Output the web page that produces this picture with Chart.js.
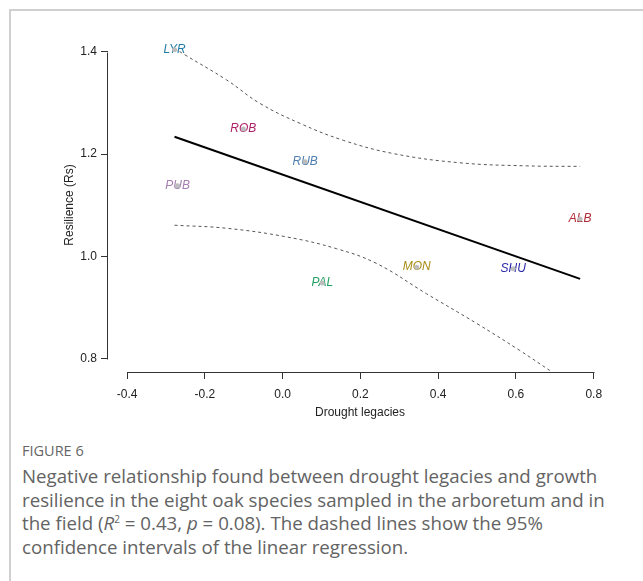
<!DOCTYPE html>
<html lang="en">
<head>
  <meta charset="UTF-8">
  <title>Figure 6 - Drought legacies vs resilience</title>
  <script src="https://cdn.jsdelivr.net/npm/chart.js"></script>
  <style>
    body {
      margin: 0;
      width: 643px;
      height: 581px;
      overflow: hidden;
      background: #fff;
      position: relative;
    }

    /* grey frame around the figure, runs off the right/bottom edge */
    .frame {
      position: absolute;
      left: 9px;
      top: 9px;
      width: 800px;
      height: 800px;
      border: 2px solid #d0d0d0;
    }

    #chart {
      position: absolute;
      left: 0;
      top: 0;
    }

    .caption {
      position: absolute;
      left: 22px;
      top: 441px;
      width: 598px;
      font-family: "Open Sans", "Noto Sans", sans-serif;
      color: #636363;
    }

    .caption .label {
      font-size: 14.5px;
      line-height: 20px;
      color: #666;
    }

    .caption p {
      margin: 3px 0 0 0;
      font-size: 18.7px;
      line-height: 23.7px;
    }
  </style>
</head>
<body>

  <div class="frame"></div>
  <canvas id="chart" width="643" height="440"></canvas>

  <div class="caption">
    <div class="label">FIGURE 6</div>
    <p>Negative relationship found between drought legacies and growth resilience in the eight oak species sampled in the arboretum and in the field (<i>R</i><sup style="font-size:10px;line-height:0">2</sup> = 0.43, <i>p</i> = 0.08). The dashed lines show the 95% confidence intervals of the linear regression.</p>
  </div>

  <script>
    // species points
    const species = ['LYR', 'ROB', 'RUB', 'PUB', 'ALB', 'MON', 'SHU', 'PAL'];
    const legacies = [-0.278, -0.101, 0.058, -0.270, 0.765, 0.345, 0.593, 0.102];
    const resilience = [1.404, 1.249, 1.185, 1.138, 1.073, 0.979, 0.976, 0.948];
    const speciesColors = ['#1f7ca3', '#ad1f68', '#4f7fae', '#a57fb3', '#b02a33', '#a88b14', '#2626aa', '#23a062'];

    // regression line
    const fitX = [-0.278, 0.765];
    const fitY = [1.234, 0.956];

    // 95% confidence bands
    const upperX = [-0.278, -0.251, -0.144, -0.058, 0.045, 0.156, 0.285, 0.456, 0.628, 0.765];
    const upperY = [1.407, 1.394, 1.345, 1.299, 1.260, 1.227, 1.201, 1.183, 1.177, 1.176];
    const lowerX = [-0.278, -0.144, 0.011, 0.139, 0.242, 0.370, 0.499, 0.610, 0.687];
    const lowerY = [1.061, 1.055, 1.038, 1.015, 0.986, 0.927, 0.869, 0.816, 0.777];

    const xTicks = [-0.4, -0.2, 0.0, 0.2, 0.4, 0.6, 0.8];
    const yTicks = [0.8, 1.0, 1.2, 1.4];

    const toXY = (xs, ys) => xs.map((v, i) => ({ x: v, y: ys[i] }));
    const axisFont = { family: '"Liberation Sans", Arial, sans-serif', size: 12 };

    // species names in italics, drawn before the grey dots
    const labelPlugin = {
      id: 'speciesLabels',
      beforeDatasetsDraw(chart) {
        const { ctx, scales: { x, y } } = chart;
        ctx.save();
        ctx.font = 'italic 12px "Liberation Sans", Arial, sans-serif';
        ctx.textAlign = 'center';
        ctx.textBaseline = 'middle';
        species.forEach((s, i) => {
          ctx.fillStyle = speciesColors[i];
          ctx.fillText(s, x.getPixelForValue(legacies[i]), y.getPixelForValue(resilience[i]));
        });
        ctx.restore();
      }
    };

    // R style axis lines: only from first to last tick
    const axisLinePlugin = {
      id: 'rAxes',
      afterDraw(chart) {
        const { ctx, scales: { x, y }, chartArea } = chart;
        ctx.save();
        ctx.strokeStyle = '#333';
        ctx.lineWidth = 1;
        ctx.beginPath();
        const by = Math.round(chartArea.bottom) + 0.5;
        ctx.moveTo(Math.round(x.getPixelForValue(xTicks[0])) + 0.5, by);
        ctx.lineTo(Math.round(x.getPixelForValue(xTicks[xTicks.length - 1])) + 0.5, by);
        const lx = Math.round(chartArea.left) - 0.5;
        ctx.moveTo(lx, Math.round(y.getPixelForValue(yTicks[0])) + 0.5);
        ctx.lineTo(lx, Math.round(y.getPixelForValue(yTicks[yTicks.length - 1])) + 0.5);
        ctx.stroke();
        ctx.restore();
      }
    };

    new Chart(document.getElementById('chart'), {
      type: 'scatter',
      data: {
        datasets: [
          {
            label: 'points',
            data: toXY(legacies, resilience),
            pointRadius: 2.5,
            pointBackgroundColor: '#bdbdbd',
            pointBorderWidth: 0
          },
          {
            label: 'fit',
            data: toXY(fitX, fitY),
            showLine: true,
            borderColor: '#000',
            borderWidth: 2,
            pointRadius: 0
          },
          {
            label: 'upper',
            data: toXY(upperX, upperY),
            showLine: true,
            borderColor: '#555',
            borderWidth: 1,
            borderDash: [3, 3],
            tension: 0.4,
            pointRadius: 0
          },
          {
            label: 'lower',
            data: toXY(lowerX, lowerY),
            showLine: true,
            borderColor: '#555',
            borderWidth: 1,
            borderDash: [3, 3],
            tension: 0.4,
            pointRadius: 0
          }
        ]
      },
      options: {
        responsive: false,
        animation: false,
        events: [],
        layout: { padding: { top: 38, right: 31, left: 0, bottom: 0 } },
        plugins: {
          legend: { display: false },
          tooltip: { enabled: false }
        },
        scales: {
          x: {
            type: 'linear',
            min: -0.449,
            max: 0.847,
            afterFit: s => { s.height = 68; },
            afterBuildTicks: s => { s.ticks = xTicks.map(v => ({ value: v })); },
            border: { display: false },
            grid: { drawOnChartArea: false, drawTicks: true, tickLength: 7, color: '#333' },
            ticks: {
              font: axisFont,
              color: '#222',
              padding: 8,
              maxRotation: 0,
              autoSkip: false,
              callback: v => v.toFixed(1)
            },
            title: {
              display: true,
              text: 'Drought legacies',
              font: axisFont,
              color: '#222',
              padding: { top: 0, bottom: 20 }
            }
          },
          y: {
            type: 'linear',
            min: 0.774,
            max: 1.427,
            afterFit: s => { s.width = 108; },
            afterBuildTicks: s => { s.ticks = yTicks.map(v => ({ value: v })); },
            border: { display: false },
            grid: { drawOnChartArea: false, drawTicks: true, tickLength: 7, color: '#333' },
            ticks: {
              font: axisFont,
              color: '#222',
              padding: 4,
              autoSkip: false,
              callback: v => v.toFixed(1)
            },
            title: {
              display: true,
              text: 'Resilience (Rs)',
              font: axisFont,
              color: '#222',
              padding: { top: 62, bottom: 0 }
            }
          }
        }
      },
      plugins: [labelPlugin, axisLinePlugin]
    });
  </script>

</body>
</html>
